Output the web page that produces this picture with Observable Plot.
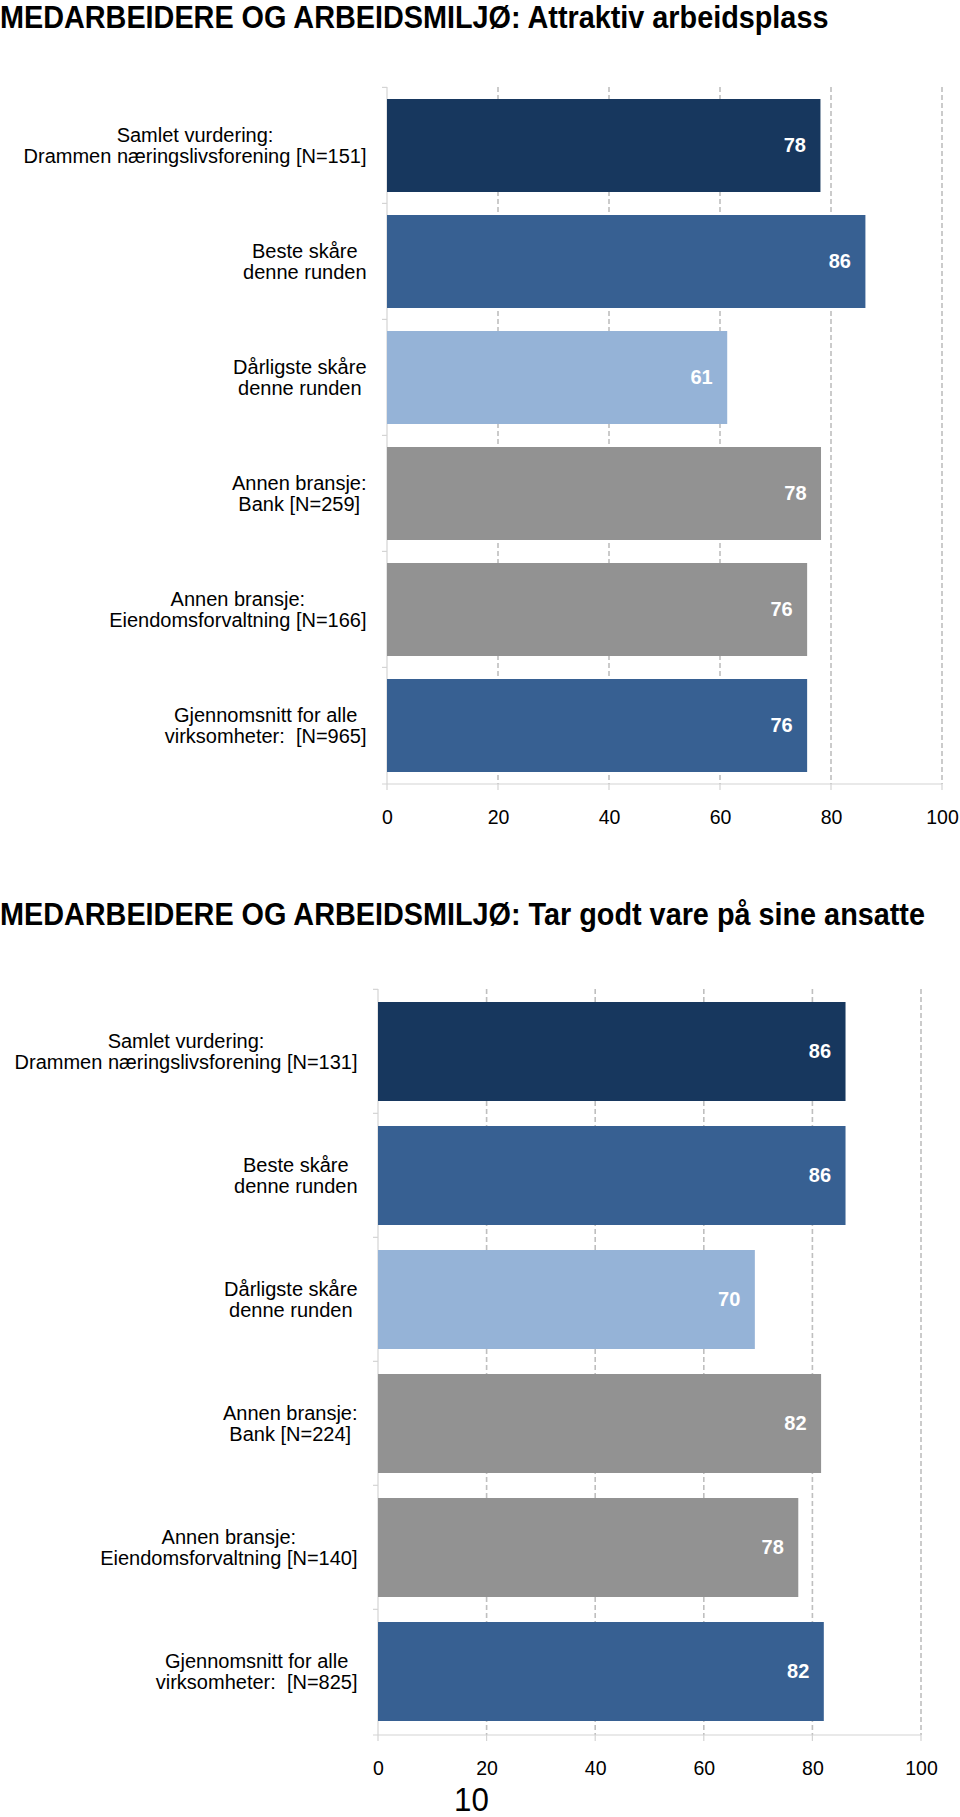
<!DOCTYPE html>
<html><head><meta charset="utf-8">
<script src="https://cdn.jsdelivr.net/npm/d3@7"></script>
<script src="https://cdn.jsdelivr.net/npm/@observablehq/plot@0.6"></script>
<style>
body{margin:0;background:#fff;}
#page{position:relative;width:960px;height:1817px;overflow:hidden;font-family:"Liberation Sans",Arial,sans-serif;background:#fff;}
.title{position:absolute;left:0;font-weight:bold;font-size:32px;line-height:34px;white-space:nowrap;transform:scaleX(0.9);transform-origin:0 0;color:#000;}
.chart{position:absolute;left:0;}
#pagenum{position:absolute;left:454px;top:1781px;font-size:34px;line-height:36px;color:#000;transform:scaleX(0.92);transform-origin:0 0;}
</style></head><body>
<div id="page">
<div class="title" id="t1" style="top:0px">MEDARBEIDERE OG ARBEIDSMILJØ: Attraktiv arbeidsplass</div>
<div class="chart" id="c1" style="top:40px"></div>
<div class="title" id="t2" style="top:897px">MEDARBEIDERE OG ARBEIDSMILJØ: Tar godt vare på sine ansatte</div>
<div class="chart" id="c2" style="top:950px"></div>
<div id="pagenum">10</div>
</div>
<script>
// ---- data ----
const categories1 = [
  "Samlet vurdering:\nDrammen næringslivsforening [N=151]",
  "Beste skåre\ndenne runden",
  "Dårligste skåre\ndenne runden",
  "Annen bransje:\nBank [N=259]",
  "Annen bransje:\nEiendomsforvaltning [N=166]",
  "Gjennomsnitt for alle\nvirksomheter:  [N=965]"
];
const values1 = [78.1, 86.2, 61.3, 78.2, 75.7, 75.7];
const labels1 = ["78", "86", "61", "78", "76", "76"];

const categories2 = [
  "Samlet vurdering:\nDrammen næringslivsforening [N=131]",
  "Beste skåre\ndenne runden",
  "Dårligste skåre\ndenne runden",
  "Annen bransje:\nBank [N=224]",
  "Annen bransje:\nEiendomsforvaltning [N=140]",
  "Gjennomsnitt for alle\nvirksomheter:  [N=825]"
];
const values2 = [86.1, 86.1, 69.4, 81.6, 77.4, 82.1];
const labels2 = ["86", "86", "70", "82", "78", "82"];

const barColors = ["#17375e", "#376092", "#95b3d7", "#929292", "#929292", "#376092"];
const xTicks = [0, 20, 40, 60, 80, 100];

const FONT = "'Liberation Sans', Arial, sans-serif";

function chart({cats, vals, labs, height, marginTop, marginBottom, marginLeft, marginRight}) {
  const data = cats.map((c, i) => ({cat: c, value: vals[i], label: labs[i], color: barColors[i]}));
  const ctx = document.createElement("canvas").getContext("2d");
  ctx.font = "20px " + FONT;
  const blockWidth = c => Math.max(...c.split("\n").map(s => ctx.measureText(s).width));
  const gap = 21;

  const frame = (index, scales, values, dims) => {
    const g = d3.create("svg:g").attr("fill", "none");
    const x = scales.x;
    const top = dims.marginTop, bottom = dims.height - dims.marginBottom;
    const x0 = x(0);
    const step = (bottom - top) / cats.length;
    // dashed gridlines
    xTicks.filter(t => t > 0).forEach(t => {
      g.append("line").attr("x1", x(t)).attr("x2", x(t)).attr("y1", top).attr("y2", bottom)
        .attr("stroke", "#bfbfbf").attr("stroke-width", 1.6).attr("stroke-dasharray", "5,3");
    });
    // left axis
    g.append("line").attr("x1", x0).attr("x2", x0).attr("y1", top).attr("y2", bottom)
      .attr("stroke", "#d4d4d4").attr("stroke-width", 1.2);
    cats.forEach((c, i) => {
      const yb = scales.y(c) - (scales.y.bandwidth ? (step - scales.y.bandwidth()) / 2 : step * 0.1);
      g.append("line").attr("x1", x0 - 5).attr("x2", x0).attr("y1", yb).attr("y2", yb)
        .attr("stroke", "#d4d4d4").attr("stroke-width", 1.2);
    });
    // bottom axis
    g.append("line").attr("x1", x0 - 5).attr("x2", x(100)).attr("y1", bottom).attr("y2", bottom)
      .attr("stroke", "#d4d4d4").attr("stroke-width", 1.2);
    xTicks.forEach(t => {
      g.append("line").attr("x1", x(t)).attr("x2", x(t)).attr("y1", bottom).attr("y2", bottom + 6)
        .attr("stroke", "#d4d4d4").attr("stroke-width", 1.2);
    });
    return g.node();
  };

  return Plot.plot({
    width: 960, height, marginTop, marginBottom, marginLeft, marginRight,
    style: {fontFamily: FONT, background: "white", color: "#000", overflow: "visible"},
    x: {domain: [0, 100], axis: null},
    y: {domain: cats, paddingInner: 0.2, paddingOuter: 0.1, axis: null},
    marks: [
      frame,
      Plot.barX(data, {x: "value", y: "cat", fill: "color"}),
      Plot.text(data, {x: "value", y: "cat", text: "label", textAnchor: "end", dx: -15,
        fill: "white", fontWeight: "bold", fontSize: 20}),
      ...data.map(d => Plot.text([d], {x: 0, y: "cat", text: "cat", textAnchor: "middle",
        dx: -(gap + blockWidth(d.cat) / 2), fontSize: 20, lineHeight: 1.05, fill: "#000"})),
      Plot.axisX({ticks: xTicks, tickSize: 0, tickPadding: 26, fontSize: 19.5, fill: "#000", label: null})
    ]
  });
}

document.getElementById("c1").append(chart({
  cats: categories1, vals: values1, labs: labels1,
  height: 800, marginTop: 47, marginBottom: 56, marginLeft: 387, marginRight: 18
}));
document.getElementById("c2").append(chart({
  cats: categories2, vals: values2, labs: labels2,
  height: 830, marginTop: 39, marginBottom: 45, marginLeft: 378, marginRight: 39
}));
</script>
</body></html>
